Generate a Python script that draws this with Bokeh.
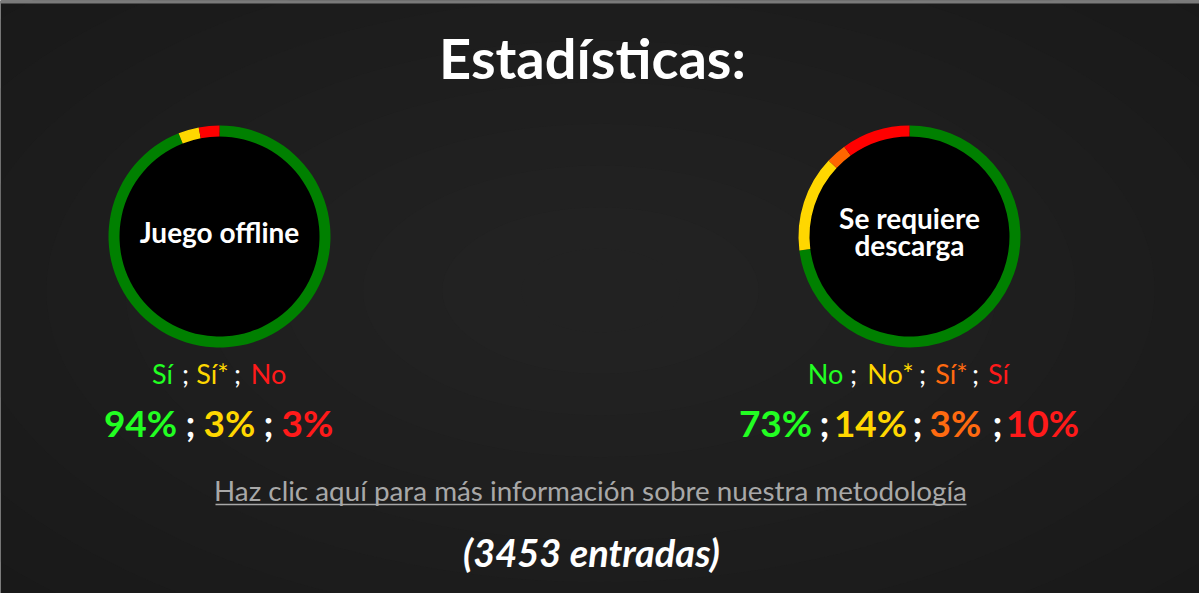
import math
from bokeh.plotting import figure
from bokeh.models import Range1d, BoxAnnotation
from bokeh.core.properties import value
from bokeh.embed import file_html
from bokeh.resources import INLINE

W, H = 1199, 593

# ---- data ----
title = "Estadísticas:"
chart1_name = ["Juego offline"]
chart1_labels = ["Sí", "Sí*", "No"]
chart1_values = [94, 3, 3]
chart1_colors = ["#008000", "#FFD700", "#FF0000"]
chart1_text_colors = ["#22FF22", "#FFD700", "#FF1A1A"]

chart2_name = ["Se requiere", "descarga"]
chart2_labels = ["No", "No*", "Sí*", "Sí"]
chart2_values = [73, 14, 3, 10]
chart2_colors = ["#008000", "#FFD700", "#FF6600", "#FF0000"]
chart2_text_colors = ["#22FF22", "#FFD700", "#FF6A10", "#FF1A1A"]

link_text = "Haz clic aquí para más información sobre nuestra metodología"
entries = 3453

FONT = "Lato"

p = figure(width=W, height=H, output_backend="svg", toolbar_location=None,
           x_range=Range1d(0, W), y_range=Range1d(0, H), min_border=0)
p.axis.visible = False
p.grid.visible = False
p.outline_line_color = None
p.background_fill_color = "#151515"
p.border_fill_color = "#151515"


def Y(py, size=0):
    # convert a pixel baseline position to data y, compensating the baseline offset
    return H - py + 0.41 * size

# radial-gradient-ish background
N = 12
for i in range(N):
    f = 1 - i / N
    p.ellipse(x=600, y=H - 290, width=1900 * f, height=1000 * f,
              fill_color="#2c2c2c", fill_alpha=0.12, line_color=None)

# top grey strip
p.add_layout(BoxAnnotation(top=H, bottom=H - 3, fill_color="#7a7a7a", fill_alpha=1, line_color=None))

# title
p.text(x=[592], y=[Y(80, 56)], text=[title], text_font=value(FONT), text_font_style="bold",
       text_font_size="56px", text_color="white", text_align="center", text_baseline="alphabetic")


def ring(cx, cy, values, colors):
    total = sum(values)
    starts, ends = [], []
    cum = 0
    for v in values:
        a0 = math.pi / 2 - 2 * math.pi * (cum + v) / total
        a1 = math.pi / 2 - 2 * math.pi * cum / total
        starts.append(a0)
        ends.append(a1)
        cum += v
    p.circle(x=[cx], y=[H - cy], radius=104, fill_color="black", line_color=None)
    p.annular_wedge(x=[cx] * len(values), y=[H - cy] * len(values), inner_radius=100,
                    outer_radius=111, start_angle=starts, end_angle=ends,
                    fill_color=colors, line_color=None, direction="anticlock")


ring(219, 236, chart1_values, chart1_colors)
ring(909, 236, chart2_values, chart2_colors)

# circle labels
p.text(x=[219], y=[Y(243, 28)], text=chart1_name, text_font=value(FONT), text_font_style="bold",
       text_font_size="28px", text_color="white", text_align="center", text_baseline="alphabetic")
p.text(x=[909, 909], y=[Y(229, 28), Y(256, 28)], text=chart2_name, text_font=value(FONT),
       text_font_style="bold", text_font_size="28px", text_color="white",
       text_align="center", text_baseline="alphabetic")


def legend_row(centers, semis, texts, colors, base, size, style):
    fs = f"{size}px"
    p.text(x=centers, y=[Y(base, size)] * len(texts), text=texts, text_color=colors,
           text_font=value(FONT), text_font_style=style, text_font_size=fs,
           text_align="center", text_baseline="alphabetic")
    p.text(x=semis, y=[Y(base, size)] * len(semis), text=[";"] * len(semis), text_color="white",
           text_font=value(FONT), text_font_style=style, text_font_size=fs,
           text_align="center", text_baseline="alphabetic")


legend_row([162, 212, 268], [185, 237], chart1_labels, chart1_text_colors, 384, 27, "normal")
legend_row([140, 229, 307], [190, 268], [f"{v}%" for v in chart1_values], chart1_text_colors,
           437, 37, "bold")
legend_row([825, 890, 951, 998], [853, 922, 975], chart2_labels, chart2_text_colors, 384, 27, "normal")
legend_row([775, 870, 955, 1042], [824, 917, 997], [f"{v}%" for v in chart2_values],
           chart2_text_colors, 437, 37, "bold")

# link
p.text(x=[590], y=[Y(501, 27.8)], text=[link_text], text_font=value(FONT), text_font_size="27.8px",
       text_color="#a8a8a8", text_align="center", text_baseline="alphabetic")
p.segment(x0=[215], y0=[H - 504], x1=[966], y1=[H - 504], line_color="#a8a8a8", line_width=1.5)

# entries
p.text(x=[591], y=[Y(567, 38)], text=[f"({entries} entradas)"], text_font=value(FONT),
       text_font_style="bold italic", text_font_size="38px", text_color="white",
       text_align="center", text_baseline="alphabetic")

open("out.html", "w").write(file_html(p, INLINE))
